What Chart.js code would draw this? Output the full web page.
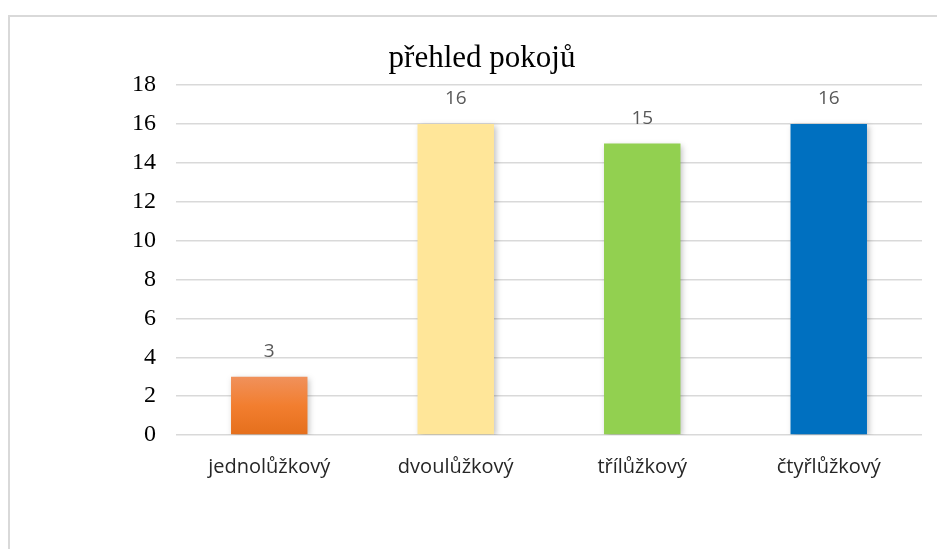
<!DOCTYPE html>
<html>
<head>
<meta charset="utf-8">
<script src="https://cdn.jsdelivr.net/npm/chart.js@4"></script>
<style>
  html, body { margin: 0; padding: 0; background: #fff; }
  #wrap { position: relative; width: 937px; height: 549px; overflow: hidden; }
  #frame {
    position: absolute; left: 8px; top: 15px; width: 940px; height: 560px;
    border: 2px solid #d9d9d9; box-sizing: border-box;
  }
  #chart { position: absolute; left: 0; top: 0; }
</style>
</head>
<body>
<div id="wrap">
  <div id="frame"></div>
  <canvas id="chart" width="937" height="549"></canvas>
</div>
<script>
// chart data
const chartTitle = "přehled pokojů";
const roomTypes = ["jednolůžkový", "dvoulůžkový", "třílůžkový", "čtyřlůžkový"];
const roomCounts = [3, 16, 15, 16];
const barColors = ["#ED7D31", "#FFE699", "#92D050", "#0070C0"];
const yTicks = [0, 2, 4, 6, 8, 10, 12, 14, 16, 18];

// orange bar gets a light-to-dark gradient, the rest are flat
function barFill(context) {
  const i = context.dataIndex;
  const chart = context.chart;
  if (i !== 0 || !chart.chartArea) return barColors[i];
  const y = chart.scales.y;
  const top = y.getPixelForValue(context.raw);
  const bottom = y.getPixelForValue(0);
  const g = chart.ctx.createLinearGradient(0, top, 0, bottom);
  g.addColorStop(0, "#F0915B");
  g.addColorStop(0.5, "#F27E2F");
  g.addColorStop(1, "#E56F1C");
  return g;
}

// soft shadow behind bars
const barShadow = {
  id: "barShadow",
  beforeDatasetDraw(chart) {
    const ctx = chart.ctx;
    ctx.save();
    ctx.shadowColor = "rgba(0,0,0,0.25)";
    ctx.shadowBlur = 6;
    ctx.shadowOffsetX = 2;
    ctx.shadowOffsetY = 2;
  },
  afterDatasetDraw(chart) {
    chart.ctx.restore();
  },
};

// value labels above bars
const valueLabels = {
  id: "valueLabels",
  afterDatasetsDraw(chart) {
    const ctx = chart.ctx;
    const meta = chart.getDatasetMeta(0);
    ctx.save();
    ctx.font = "19px 'Open Sans'";
    ctx.fillStyle = "#595959";
    ctx.textAlign = "center";
    ctx.textBaseline = "middle";
    meta.data.forEach((bar, i) => {
      ctx.fillText(String(roomCounts[i]), bar.x, bar.y - 25);
    });
    ctx.restore();
  },
};

const ctx = document.getElementById("chart").getContext("2d");
new Chart(ctx, {
  type: "bar",
  data: {
    labels: roomTypes,
    datasets: [
      {
        data: roomCounts,
        backgroundColor: barFill,
        borderWidth: 0,
        categoryPercentage: 1,
        barPercentage: 0.41,
      },
    ],
  },
  options: {
    responsive: false,
    animation: false,
    layout: {
      padding: { left: 42, right: 15, top: 0, bottom: 58 },
    },
    plugins: {
      legend: { display: false },
      tooltip: { enabled: false },
      title: {
        display: true,
        text: chartTitle,
        color: "#000",
        font: { family: "'Liberation Serif', 'Times New Roman', serif", size: 31, weight: "normal" },
        padding: { top: 40, bottom: 8 },
      },
    },
    scales: {
      x: {
        grid: { display: false },
        border: { display: false },
        ticks: {
          color: "#262626",
          font: { family: "'Open Sans'", size: 20 },
          padding: 12,
        },
      },
      y: {
        min: 0,
        max: 18,
        afterFit(scale) {
          scale.width = 134;
        },
        afterBuildTicks(scale) {
          scale.ticks = yTicks.map((v) => ({ value: v }));
        },
        grid: { color: "#d9d9d9", lineWidth: 1.5, drawTicks: false },
        border: { display: false },
        ticks: {
          color: "#000",
          font: { family: "'Liberation Serif', 'Times New Roman', serif", size: 24 },
          padding: 20,
        },
      },
    },
  },
  plugins: [barShadow, valueLabels],
});
</script>
</body>
</html>
